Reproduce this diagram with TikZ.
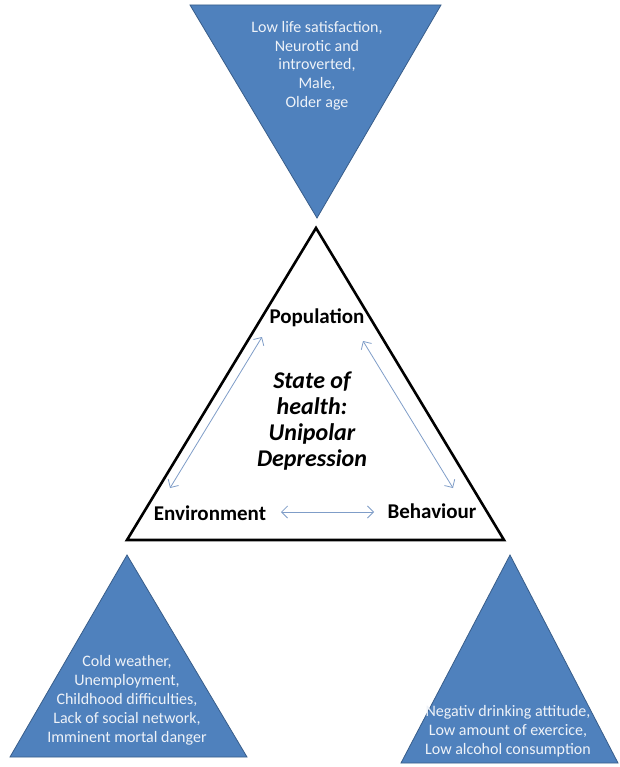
\documentclass[tikz,border=0pt]{standalone}
\usepackage{fontspec}
\setmainfont{Carlito}
\usetikzlibrary{arrows.meta}
\definecolor{tribl}{HTML}{4F81BD}
\definecolor{tribd}{HTML}{385D8A}
\definecolor{tritext}{HTML}{EEF2F8}
\definecolor{arrowc}{HTML}{7F9DC8}
\tikzset{
  bluetri/.style={fill=tribl,draw=tribd,line width=0.8pt,line join=miter},
  bluetext/.style={text=tritext,font=\fontsize{16}{18.8}\selectfont,align=center,inner sep=0pt},
  corner/.style={font=\bfseries\fontsize{21}{24}\selectfont,inner sep=0pt},
  center/.style={font=\bfseries\itshape\fontsize{24}{26.2}\selectfont,align=center,inner sep=0pt},
  linkarrow/.style={draw=arrowc,line width=0.8pt,{Straight Barb[length=6pt,width=12pt]}-{Straight Barb[length=6pt,width=12pt]}}
}
\begin{document}
\begin{tikzpicture}[x=1pt,y=-1pt]
\useasboundingbox (0,0) rectangle (619,767);
\fill[white] (0,0) rectangle (619,767);
% top inverted triangle
\draw[bluetri] (190,5) -- (441,5) -- (317,218) -- cycle;
\node[bluetext,anchor=north] (poptext) at (317,21) {Low life satisfaction,\\Neurotic and\\introverted,\\Male,\\Older age};
% central triangle
\draw[black,line width=2.6pt,line join=miter] (316,228) -- (504,540) -- (127,540) -- cycle;
\node[corner] (pop) at (317,318) {Population};
\node[corner] (env) at (210,513) {Environment};
\node[corner] (beh) at (432,511) {Behaviour};
\node[center] (state) at (312,421) {State of\\health:\\Unipolar\\Depression};
\coordinate (pe1) at (262,337);
\coordinate (pe2) at (170,488);
\coordinate (pb1) at (363,341);
\coordinate (pb2) at (453,488);
\coordinate (eb1) at (281,512);
\coordinate (eb2) at (374,512);
\draw[linkarrow] (pe1) -- (pe2);
\draw[linkarrow] (pb1) -- (pb2);
\draw[linkarrow] (eb1) -- (eb2);
% bottom left triangle
\draw[bluetri] (127,555) -- (247,757) -- (10,757) -- cycle;
\node[bluetext,anchor=south] (envtext) at (127,745) {Cold weather,\\Unemployment,\\Childhood difficulties,\\Lack of social network,\\Imminent mortal danger};
% bottom right triangle
\draw[bluetri] (510,555) -- (618,763) -- (401,763) -- cycle;
\node[bluetext,anchor=south] (behtext) at (508,757) {Negativ drinking attitude,\\Low amount of exercice,\\Low alcohol consumption};
\end{tikzpicture}
\end{document}
